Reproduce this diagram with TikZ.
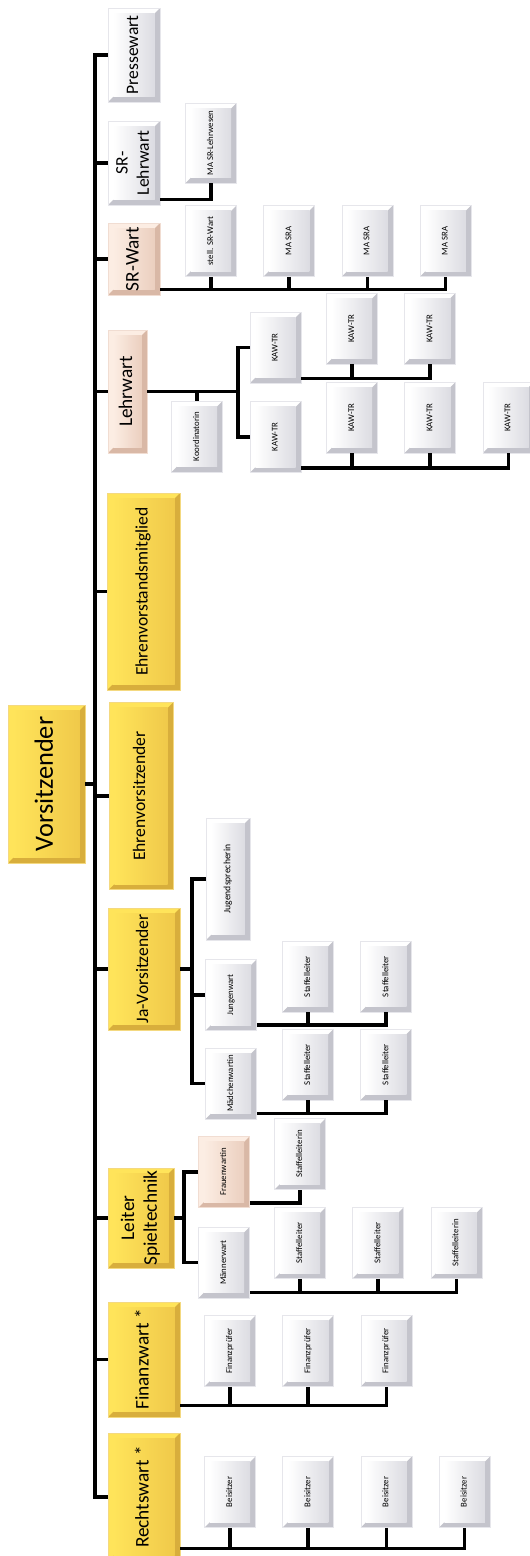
\documentclass[tikz,border=0pt]{standalone}
\usepackage{fontspec}
\setmainfont{Carlito}
\usepackage{tikz}
\usetikzlibrary{positioning}
\definecolor{yelA}{HTML}{FFE45A}
\definecolor{yelB}{HTML}{F0C94A}
\definecolor{yelC}{HTML}{D8AE3C}
\definecolor{pchA}{HTML}{FCEDE3}
\definecolor{pchB}{HTML}{EBCFBF}
\definecolor{pchC}{HTML}{D9B8A6}
\definecolor{grB}{HTML}{DCDCE2}
\definecolor{grC}{HTML}{C4C4CC}
\newcommand{\vtext}[1]{\rotatebox{90}{\begin{tabular}{@{}c@{}}#1\end{tabular}}}

\begin{document}
\begin{tikzpicture}[
  x=0.02cm, y=-0.02cm,
  node distance=0.53cm,
  bevel/.style n args={3}{rectangle, inner sep=0pt, fill=#1, draw=#2!70,
    path picture={
      \coordinate (pp1) at (path picture bounding box.south west);
      \coordinate (pp2) at (path picture bounding box.south east);
      \coordinate (pp3) at (path picture bounding box.north east);
      \fill[#3] (pp1) -- ([shift={(3pt,3pt)}]pp1) -- ([shift={(-3pt,3pt)}]pp2)
        -- ([shift={(-3pt,-3pt)}]pp3) -- (pp3) -- (pp2) -- cycle;
      \shade[left color=#1, right color=#2] ([shift={(3pt,3pt)}]pp1) rectangle ([shift={(-3pt,-3pt)}]pp3);}},
  ybox/.style={bevel={yelA}{yelB}{yelC}},
  pbox/.style={bevel={pchA}{pchB}{pchC}},
  gbox/.style={bevel={white}{grB}{grC}},
  kbox/.style={gbox, minimum width=1.02cm, minimum height=1.42cm, font=\fontsize{5}{6}\selectfont},
  tenpt/.style={font=\fontsize{10}{12}\selectfont},
  elvpt/.style={font=\fontsize{11}{13}\selectfont},
  link/.style={line width=2pt}]
\useasboundingbox (0,0) rectangle (529,1556);
\node[ybox, minimum width=1.54cm, minimum height=3.16cm, font=\fontsize{15}{18}\selectfont] (vors) at (46.5,784) {\vtext{Vorsitzender}};
\node[gbox, tenpt, minimum width=1.04cm, minimum height=1.88cm] (presse) at (134,55) {\vtext{Pressewart}};
\node[gbox, tenpt, minimum width=1.04cm, minimum height=1.68cm] (srlehr) at (134,163) {\vtext{SR-\\Lehrwart}};
\node[pbox, elvpt, minimum width=1.04cm, minimum height=1.44cm] (srwart) at (134,259) {\vtext{SR-Wart}};
\node[pbox, elvpt, minimum width=0.78cm, minimum height=2.46cm] (lehrwart) at (127.5,391.5) {\vtext{Lehrwart}};
\node[ybox, tenpt, minimum width=1.46cm, minimum height=3.94cm] (ehrvm) at (143.5,591.5) {\vtext{Ehrenvorstandsmitglied}};
\node[ybox, tenpt, minimum width=1.28cm, minimum height=3.74cm] (ehrv) at (141,796) {\vtext{Ehrenvorsitzender}};
\node[ybox, tenpt, minimum width=1.44cm, minimum height=2.44cm] (javors) at (144,969) {\vtext{Ja-Vorsitzender}};
\node[ybox, elvpt, minimum width=1.32cm, minimum height=2.0cm] (leiter) at (141,1218) {\vtext{Leiter\\Spieltechnik}};
\node[ybox, elvpt, minimum width=1.44cm, minimum height=2.30cm] (finanz) at (144,1359.5) {\vtext{Finanzwart *}};
\node[ybox, elvpt, minimum width=1.44cm, minimum height=2.56cm] (recht) at (144,1497) {\vtext{Rechtswart *}};

\node[kbox, minimum height=1.6cm] (masr) at (211,143) {\vtext{MA SR-Lehrwesen}};
\node[kbox] (srw1) at (211,241) {\vtext{stell. SR-Wart}};
\node[kbox, right=of srw1] (srw2) {\vtext{MA SRA}};
\node[kbox, right=of srw2] (srw3) {\vtext{MA SRA}};
\node[kbox, right=of srw3] (srw4) {\vtext{MA SRA}};

\node[kbox] (koord) at (197,436.5) {\vtext{Koordinatorin}};
\node[kbox] (kawa) at (275.5,347.5) {\vtext{KAW-TR}};
\node[kbox] (kawb) at (275.5,437) {\vtext{KAW-TR}};
\node[kbox] (kawa2) at (352,328.5) {\vtext{KAW-TR}};
\node[kbox, right=of kawa2] (kawa3) {\vtext{KAW-TR}};
\node[kbox] (kawb2) at (352,417.5) {\vtext{KAW-TR}};
\node[kbox, right=of kawb2] (kawb3) {\vtext{KAW-TR}};
\node[kbox, right=of kawb3] (kawb4) {\vtext{KAW-TR}};

\node[kbox, minimum width=0.88cm, minimum height=2.44cm, font=\fontsize{5.5}{6.5}\selectfont] (jugsp) at (228,879) {\vtext{Jugendsprecherin}};
\node[kbox] (jungw) at (231,995) {\vtext{Jungenwart}};
\node[kbox] (maedw) at (231,1083.5) {\vtext{Mädchenwartin}};
\node[kbox] (jst1) at (308,976.5) {\vtext{Staffelleiter}};
\node[kbox, right=of jst1] (jst2) {\vtext{Staffelleiter}};
\node[kbox] (mst1) at (308,1064.5) {\vtext{Staffelleiter}};
\node[kbox, right=of mst1] (mst2) {\vtext{Staffelleiter}};

\node[kbox, pbox] (frauw) at (224,1172) {\vtext{Frauenwartin}};
\node[kbox] (fst) at (300,1154) {\vtext{Staffelleiterin}};
\node[kbox] (maennw) at (224,1262.5) {\vtext{Männerwart}};
\node[kbox] (mnst1) at (300,1243) {\vtext{Staffelleiter}};
\node[kbox, right=of mnst1] (mnst2) {\vtext{Staffelleiter}};
\node[kbox, right=of mnst2] (mnst3) {\vtext{Staffelleiterin}};

\node[kbox] (fin1) at (230,1351) {\vtext{Finanzprüfer}};
\node[kbox, right=of fin1] (fin2) {\vtext{Finanzprüfer}};
\node[kbox, right=of fin2] (fin3) {\vtext{Finanzprüfer}};

\node[kbox] (bei1) at (230,1492) {\vtext{Beisitzer}};
\node[kbox, right=of bei1] (bei2) {\vtext{Beisitzer}};
\node[kbox, right=of bei2] (bei3) {\vtext{Beisitzer}};
\node[kbox, right=of bei3] (bei4) {\vtext{Beisitzer}};

\coordinate (trunk) at (95,0);
\draw[link] (presse.west) -- (presse.west -| trunk) -- (recht.west -| trunk) -- (recht.west);
\foreach \n in {srlehr,srwart,lehrwart,ehrvm,ehrv,javors,leiter,finanz}
  \draw[link] (\n.west -| trunk) -- (\n.west);
\draw[link] (vors.east) -- (vors.east -| trunk);

\draw[link] ([yshift=0.12cm]srlehr.south east) -| (masr.south);
\draw[link] ([yshift=0.12cm]srwart.south east) coordinate (b1) -| (srw4.south);
\foreach \n in {srw1,srw2,srw3} \draw[link] (\n.south) -- (\n.south |- b1);

\coordinate (lfork) at (238,0);
\draw[link] (lehrwart.east) -- (lehrwart.east -| lfork);
\draw[link] (kawa.west) -- (kawa.west -| lfork) -- (kawb.west -| lfork) -- (kawb.west);
\draw[link] (koord.north) -- (koord.north |- lehrwart.east);
\draw[link] ([yshift=0.1cm]kawa.south east) coordinate (b2) -| (kawa3.south);
\draw[link] (kawa2.south) -- (kawa2.south |- b2);
\draw[link] ([yshift=0.1cm]kawb.south east) coordinate (b3) -| (kawb4.south);
\foreach \n in {kawb2,kawb3} \draw[link] (\n.south) -- (\n.south |- b3);

\coordinate (jfork) at (192,0);
\draw[link] (javors.east) -- (javors.east -| jfork);
\draw[link] (jugsp.west) -- (jugsp.west -| jfork) -- (maedw.west -| jfork) -- (maedw.west);
\draw[link] (jungw.west -| jfork) -- (jungw.west);
\draw[link] ([yshift=0.12cm]jungw.south east) coordinate (b4) -| (jst2.south);
\draw[link] (jst1.south) -- (jst1.south |- b4);
\draw[link] ([yshift=0.12cm]maedw.south east) coordinate (b5) -| (mst2.south);
\draw[link] (mst1.south) -- (mst1.south |- b5);

\coordinate (sfork) at (184,0);
\draw[link] (leiter.east) -- (leiter.east -| sfork);
\draw[link] (frauw.west) -- (frauw.west -| sfork) -- (maennw.west -| sfork) -- (maennw.west);
\draw[link] ([yshift=0.1cm]frauw.south east) -| (fst.south);
\draw[link] ([yshift=0.12cm]maennw.south east) coordinate (b6) -| (mnst3.south);
\foreach \n in {mnst1,mnst2} \draw[link] (\n.south) -- (\n.south |- b6);

\draw[link] ([yshift=0.24cm]finanz.south east) coordinate (b7) -| (fin3.south);
\foreach \n in {fin1,fin2} \draw[link] (\n.south) -- (\n.south |- b7);
\draw[link] ([yshift=0.26cm]recht.south east) coordinate (b8) -| (bei4.south);
\foreach \n in {bei1,bei2,bei3} \draw[link] (\n.south) -- (\n.south |- b8);
\end{tikzpicture}
\end{document}
